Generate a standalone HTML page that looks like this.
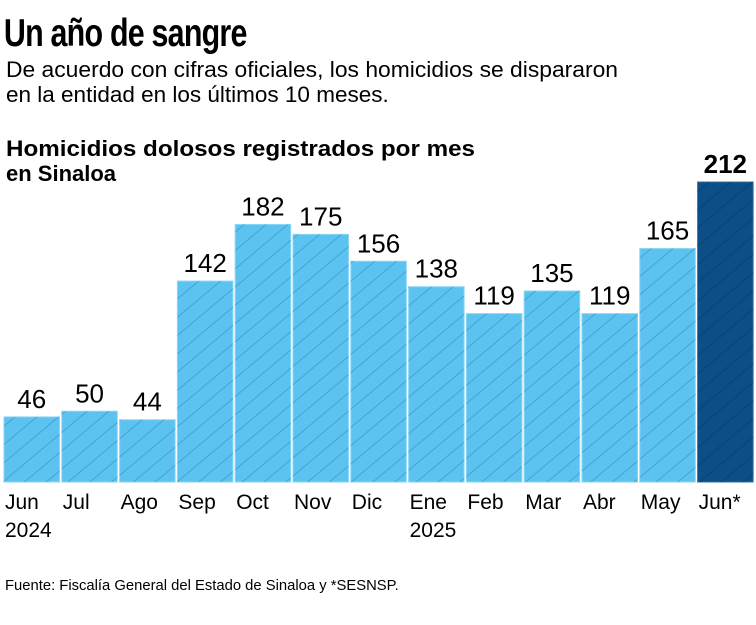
<!DOCTYPE html>
<html><head><meta charset="utf-8"><style>
body{margin:0;background:#fff;width:756px;height:620px;overflow:hidden;font-family:"Liberation Sans",sans-serif;color:#111}
</style></head><body>
<svg width="756" height="620" xmlns="http://www.w3.org/2000/svg" font-family="Liberation Sans, sans-serif">
<defs>
<pattern id="h" width="14" height="14" patternUnits="userSpaceOnUse" patternTransform="rotate(-40)">
<line x1="0" y1="7" x2="14" y2="7" stroke="#2f8fc0" stroke-width="1" opacity="0.6"/></pattern>
<pattern id="hd" width="14" height="14" patternUnits="userSpaceOnUse" patternTransform="rotate(-40)">
<line x1="0" y1="7" x2="14" y2="7" stroke="#0a3e6a" stroke-width="1" opacity="0.8"/></pattern>
</defs>
<text x="5" y="46" font-size="39" font-weight="bold" transform="scale(0.78,1)" letter-spacing="-1">Un año de sangre</text>
<text x="6" y="77" font-size="22.5" textLength="612" lengthAdjust="spacingAndGlyphs">De acuerdo con cifras oficiales, los homicidios se dispararon</text>
<text x="6" y="102" font-size="22.5">en la entidad en los últimos 10 meses.</text>
<text x="6" y="156" font-size="22" font-weight="bold" textLength="469" lengthAdjust="spacingAndGlyphs">Homicidios dolosos registrados por mes</text>
<text x="6" y="181" font-size="22" font-weight="bold">en Sinaloa</text>
<g id="bars"></g>
<text x="5" y="590" font-size="14.8">Fuente: Fiscalía General del Estado de Sinaloa y *SESNSP.</text>
</svg>
<script>
const d=[["Jun",46,"2024"],["Jul",50],["Ago",44],["Sep",142],["Oct",182],["Nov",175],["Dic",156],["Ene",138,"2025"],["Feb",119],["Mar",135],["Abr",119],["May",165],["Jun*",212]];
const g=document.getElementById('bars');let s='';
d.forEach((e,i)=>{const x=4+i*57.8,w=55.5,h=e[1]*1.415,y=482-h,last=i==12;
const c=last?'#0c4f86':'#5cc3f0';
s+=`<rect x="${x}" y="${y}" width="${w}" height="${h}" fill="${c}" stroke="${last?'#2a6ea4':'#8ad6f6'}" stroke-width="1"/>`;
s+=`<rect x="${x}" y="${y}" width="${w}" height="${h}" fill="url(#${last?'hd':'h'})"/>`;
s+=`<text x="${x+w/2}" y="${y-9}" font-size="26" text-anchor="middle" ${last?'font-weight="bold"':''}>${e[1]}</text>`;
s+=`<text x="${x+1}" y="509" font-size="21">${e[0]}</text>`;
if(e[2])s+=`<text x="${x+1}" y="537" font-size="21">${e[2]}</text>`;});
g.innerHTML=s;
</script>
</body></html>
